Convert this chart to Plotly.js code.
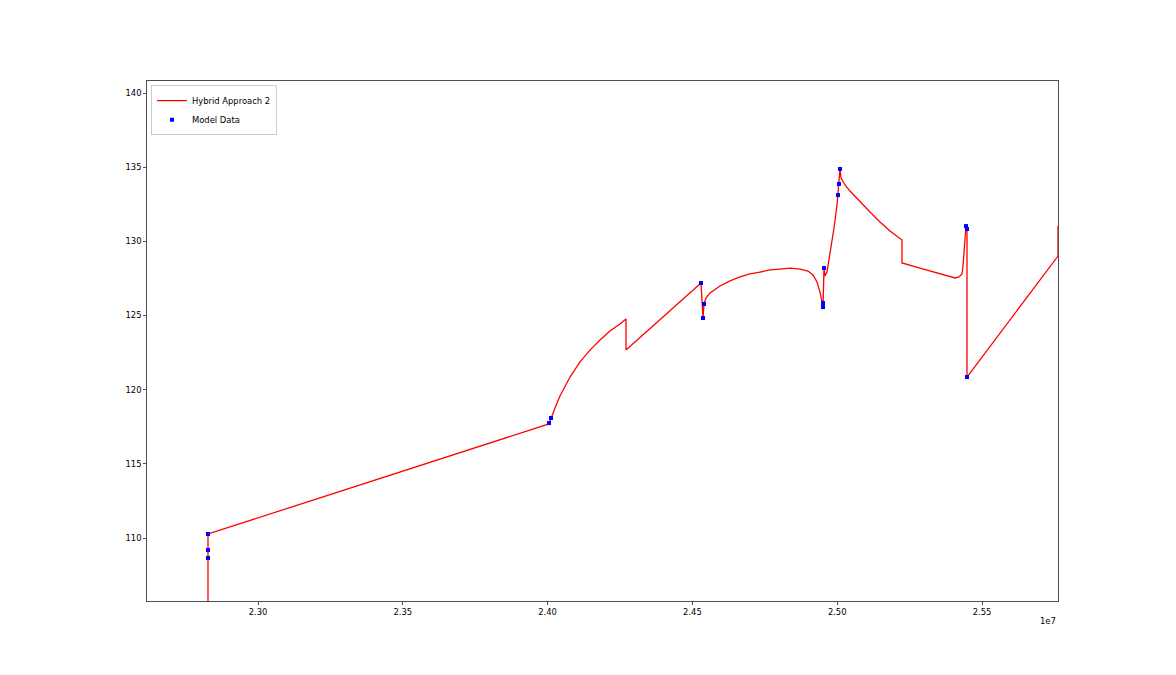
<!DOCTYPE html>
<html>
<head>
<meta charset="utf-8">
<script src="https://cdn.plot.ly/plotly-3.0.1.min.js"></script>
<style>html,body{margin:0;padding:0;background:#fff;}#chart{width:1176px;height:675px;}</style>
</head>
<body>
<div id="chart"></div>
<script>
// Hybrid Approach 2 curve
const lineX = [22827350, 22827350, 22827350, 22827350, 24004823, 24011729,
  24025541, 24042806, 24077336, 24111866, 24146396, 24180926, 24215456, 24249986, 24270704,
  24270704, 24529679, 24536585, 24540038,
  24546944, 24560756, 24595286, 24629816, 24664346, 24698876, 24733406, 24767936, 24802466,
  24836996, 24871526, 24899150, 24916415, 24930227, 24940586, 24947492, 24950945,
  24954398, 24957851, 24964757, 24975116, 24988928, 24999287, 25002740, 25006193, 25009646,
  25013099, 25026911, 25044176, 25078706, 25113236, 25147766, 25182296, 25223732,
  25223732, 25285886, 25354946, 25406741, 25420553, 25430912, 25434365, 25437818, 25441271,
  25444724, 25448177, 25448177, 25762400, 25762400];
const lineY = [99.0, 108.65, 109.19, 110.27, 117.69, 118.09,
  118.76, 119.57, 120.85, 121.87, 122.67, 123.35, 123.96, 124.43, 124.76,
  122.67, 127.19, 124.83, 125.78,
  126.18, 126.52, 126.99, 127.33, 127.60, 127.80, 127.93, 128.07, 128.13,
  128.20, 128.13, 128.00, 127.73, 127.26, 126.58, 125.84, 125.57,
  128.20, 127.66, 127.93, 129.08, 130.90, 132.45, 133.12, 133.87, 134.88,
  134.27, 133.80, 133.39, 132.65, 131.98, 131.30, 130.70, 130.09,
  128.54, 128.20, 127.80, 127.53, 127.60, 127.80, 128.34, 129.42, 130.63,
  131.03, 130.83, 120.85, 129.01, 131.03];

// Model Data points
const modelX = [22827350, 22827350, 22827350, 24004823, 24011729,
  24529679, 24536585, 24540038,
  24950945, 24950945, 24954398, 25002740, 25006193, 25009646,
  25444724, 25448177, 25448177];
const modelY = [110.27, 109.19, 108.65, 117.75, 118.09,
  127.19, 124.83, 125.78,
  125.84, 125.57, 128.20, 133.12, 133.87, 134.88,
  131.03, 130.83, 120.85];

const xTickVals = [23000000, 23500000, 24000000, 24500000, 25000000, 25500000];
const xTickText = ['2.30', '2.35', '2.40', '2.45', '2.50', '2.55'];
const yTickVals = [110, 115, 120, 125, 130, 135, 140];
const seriesNames = ['Hybrid Approach 2', 'Model Data'];
const offsetText = '1e7';

const font = {family: 'DejaVu Sans, sans-serif', size: 8.4, color: '#000'};

const traces = [
  {x: lineX, y: lineY, type: 'scatter', mode: 'lines', name: seriesNames[0],
   line: {color: '#ff0000', width: 1.3}},
  {x: modelX, y: modelY, type: 'scatter', mode: 'markers', name: seriesNames[1],
   marker: {color: '#0000ff', size: 4, symbol: 'square'}}
];

const axisCommon = {
  showgrid: false, zeroline: false, showline: true, mirror: true,
  linecolor: '#222', linewidth: 0.8, ticks: 'outside', ticklen: 3, tickwidth: 0.8,
  tickcolor: '#222', tickfont: font
};

const layout = {
  width: 1176, height: 675,
  margin: {l: 147, r: 118, t: 81, b: 74, pad: 0},
  paper_bgcolor: '#fff', plot_bgcolor: '#fff',
  font: font,
  showlegend: true,
  legend: {x: 0.0044, y: 0.992, xanchor: 'left', yanchor: 'top',
    bgcolor: 'rgba(255,255,255,0.8)', bordercolor: '#cccccc', borderwidth: 1,
    font: font, tracegroupgap: 0, itemwidth: 30},
  xaxis: Object.assign({}, axisCommon, {
    range: [22616717, 25762400], tickmode: 'array',
    tickvals: xTickVals, ticktext: xTickText
  }),
  yaxis: Object.assign({}, axisCommon, {
    range: [105.753, 140.81], tickmode: 'array', tickvals: yTickVals
  }),
  annotations: [{
    text: offsetText, xref: 'paper', yref: 'paper', x: 1, y: 0,
    xanchor: 'right', yanchor: 'middle', yshift: -20, showarrow: false,
    font: font
  }]
};

Plotly.newPlot('chart', traces, layout, {displayModeBar: false, staticPlot: true});
</script>
</body>
</html>
